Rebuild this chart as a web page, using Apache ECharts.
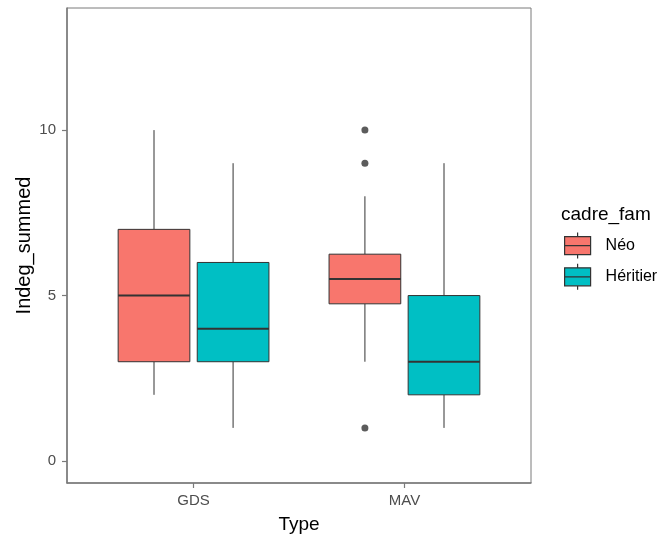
<!DOCTYPE html>
<html>
<head>
<meta charset="utf-8">
<script src="https://cdn.jsdelivr.net/npm/echarts@6/dist/echarts.min.js"></script>
<style>html,body{margin:0;padding:0;background:#fff}#c{width:660px;height:535px}</style>
</head>
<body>
<div id="c"></div>
<script>
const categories = ['GDS', 'MAV'];
const groups = ['Néo', 'Héritier'];
// [min, q1, median, q3, max] per category
const neoStats = [[2, 3, 5, 7, 10], [3, 4.75, 5.5, 6.25, 8]];
const heritierStats = [[1, 3, 4, 6, 9], [1, 2, 3, 5, 9]];
const neoOutliers = [[], [10, 9, 1]];
const heritierOutliers = [[], []];
const yTicks = [0, 5, 10];

const colors = ['#F8766D', '#00BFC4'];
const dodge = 0.1875;
const halfW = 0.17;
const FONT = 'Liberation Sans, Arial, sans-serif';

function boxData(stats, gi) {
  return stats.map((s, ci) => [ci + 1 + (gi === 0 ? -dodge : dodge)].concat(s));
}
function outlierData(outs, gi) {
  const r = [];
  outs.forEach((arr, ci) => arr.forEach(v => r.push([ci + 1 + (gi === 0 ? -dodge : dodge), v])));
  return r;
}
function makeRender(color) {
  return function (params, api) {
    const x = api.value(0);
    const hw = api.size([halfW, 0])[0];
    const pMin = api.coord([x, api.value(1)]);
    const pQ1 = api.coord([x, api.value(2)]);
    const pMed = api.coord([x, api.value(3)]);
    const pQ3 = api.coord([x, api.value(4)]);
    const pMax = api.coord([x, api.value(5)]);
    const cx = pMin[0];
    const ls = { stroke: '#333333', lineWidth: 1 };
    return {
      type: 'group',
      children: [
        { type: 'line', shape: { x1: cx, y1: pMax[1], x2: cx, y2: pQ3[1] }, style: ls },
        { type: 'line', shape: { x1: cx, y1: pQ1[1], x2: cx, y2: pMin[1] }, style: ls },
        { type: 'rect', shape: { x: cx - hw, y: pQ3[1], width: 2 * hw, height: pQ1[1] - pQ3[1] },
          style: { fill: color, stroke: '#333333', lineWidth: 1 } },
        { type: 'line', shape: { x1: cx - hw, y1: pMed[1], x2: cx + hw, y2: pMed[1] },
          style: { stroke: '#333333', lineWidth: 2 } }
      ]
    };
  };
}

const allStats = [neoStats, heritierStats];
const allOut = [neoOutliers, heritierOutliers];
const series = [];
groups.forEach((g, gi) => {
  series.push({
    name: g, type: 'custom', renderItem: makeRender(colors[gi]),
    itemStyle: { color: colors[gi], borderColor: '#333', borderWidth: 1 },
    encode: { x: 0, y: [1, 2, 3, 4, 5] },
    data: boxData(allStats[gi], gi), z: 2
  });
  series.push({
    type: 'scatter', data: outlierData(allOut[gi], gi), symbolSize: 7,
    itemStyle: { color: '#333333' }, z: 3, silent: true
  });
});

const icon = 'path://M0,4H26V22H0Z M0,13H26 M13,0V4 M13,22V26';
const chart = echarts.init(document.getElementById('c'));
chart.setOption({
  animation: false,
  backgroundColor: '#ffffff',
  title: {
    text: 'cadre_fam', left: 561, top: 205, padding: 0,
    textStyle: { fontFamily: FONT, fontSize: 19, fontWeight: 'normal', color: '#000' }
  },
  legend: {
    orient: 'vertical', left: 564, top: 232, padding: 0,
    itemWidth: 26, itemHeight: 26, itemGap: 4,
    data: groups.map((g, gi) => ({ name: g, icon: icon,
      itemStyle: { color: colors[gi], borderColor: '#333333', borderWidth: 1.2 } })),
    textStyle: { fontFamily: FONT, fontSize: 16, color: '#000', padding: [0, 0, 0, 10] }
  },
  grid: {
    left: 67, top: 8, right: 129, bottom: 52, outerBoundsMode: 'none', containLabel: false,
    show: true, borderColor: '#7a7a7a', borderWidth: 1, backgroundColor: '#fff'
  },
  xAxis: {
    type: 'value', min: 0.4, max: 2.6,
    name: 'Type', nameLocation: 'middle', nameGap: 32, nameMoveOverlap: false,
    nameTextStyle: { fontFamily: FONT, fontSize: 19, color: '#000' },
    splitLine: { show: false },
    axisLine: { show: true, onZero: false, lineStyle: { color: '#7a7a7a', width: 1.5 } },
    axisTick: { show: true, length: 5, customValues: [1, 2], lineStyle: { color: '#7a7a7a', width: 1.2 } },
    axisLabel: { customValues: [1, 2], margin: 10, fontFamily: FONT, fontSize: 15, color: '#4d4d4d',
      formatter: v => categories[Math.round(v) - 1] || '' }
  },
  yAxis: {
    type: 'value', min: -0.665, max: 13.69,
    name: 'Indeg_summed', nameLocation: 'middle', nameGap: 33, nameMoveOverlap: false,
    nameTextStyle: { fontFamily: FONT, fontSize: 20, color: '#000' },
    splitLine: { show: false },
    axisLine: { show: true, onZero: false, lineStyle: { color: '#7a7a7a', width: 1.5 } },
    axisTick: { show: true, length: 5, customValues: yTicks, lineStyle: { color: '#7a7a7a', width: 1.2 } },
    axisLabel: { customValues: yTicks, margin: 11, fontFamily: FONT, fontSize: 15, color: '#4d4d4d' }
  },
  series: series
});
</script>
</body>
</html>
